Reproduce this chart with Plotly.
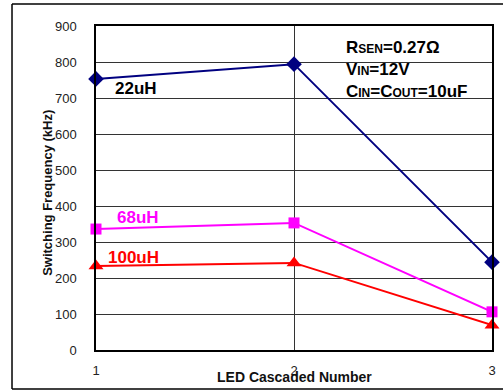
import plotly.graph_objects as go

# LED cascaded count vs switching frequency for three inductor values
led_count = [1, 2, 3]
freq_22uH = [753, 794, 244]
freq_68uH = [336, 353, 106]
freq_100uH = [233, 242, 69]

y_ticks = [0, 100, 200, 300, 400, 500, 600, 700, 800, 900]

FONT = "Arial, Liberation Sans, sans-serif"

fig = go.Figure()

series = [
    ("22uH", freq_22uH, "#000080", "diamond", 12),
    ("68uH", freq_68uH, "#FF00FF", "square", 11),
    ("100uH", freq_100uH, "#FF0000", "triangle-up", 13),
]
for name, vals, color, symbol, msize in series:
    fig.add_trace(go.Scatter(
        x=led_count, y=vals, name=name, mode="lines+markers",
        line=dict(color=color, width=2),
        marker=dict(symbol=symbol, size=msize, color=color),
        cliponaxis=False, showlegend=False,
    ))

# series labels
fig.add_annotation(x=1.20, y=726, text="<b>22uH</b>", showarrow=False,
                   xanchor="center", font=dict(family=FONT, size=17, color="#000000"))
fig.add_annotation(x=1.21, y=367, text="<b>68uH</b>", showarrow=False,
                   xanchor="center", font=dict(family=FONT, size=17, color="#FF00FF"))
fig.add_annotation(x=1.19, y=256, text="<b>100uH</b>", showarrow=False,
                   xanchor="center", font=dict(family=FONT, size=17, color="#FF0000"))

# operating conditions
sm = "<span style='font-size:12px'>"
cond = (f"<b>R{sm}SEN</span>=0.27Ω</b><br>"
        f"<b>V{sm}IN</span>=12V</b><br>"
        f"<b>C{sm}IN</span>=C{sm}OUT</span>=10uF</b>")
fig.add_annotation(xref="paper", yref="paper", x=0.625, y=0.97, text=cond,
                   showarrow=False, xanchor="left", yanchor="top", align="left",
                   font=dict(family=FONT, size=17, color="#000000"))

# axis titles
fig.add_annotation(xref="paper", yref="paper", x=0.5, y=-0.082, text="<b>LED Cascaded Number</b>",
                   showarrow=False, xanchor="center", yanchor="middle",
                   font=dict(family=FONT, size=14, color="#111111"))
fig.add_annotation(xref="paper", yref="paper", x=-0.1212, y=0.485,
                   text="<b>Switching Frequency (kHz)</b>", textangle=-90,
                   showarrow=False, xanchor="center", yanchor="middle",
                   font=dict(family=FONT, size=13, color="#111111"))

shapes = [
    # white backing behind the conditions text
    dict(type="rect", xref="paper", yref="paper", x0=0.621, x1=1.02, y0=0.756, y1=0.963,
         fillcolor="white", line=dict(width=0), layer="between"),
    # outer frame
    dict(type="line", xref="paper", yref="paper", x0=-0.2121, x1=1.06, y0=1.068, y1=1.068,
         line=dict(color="black", width=1.5)),
    dict(type="line", xref="paper", yref="paper", x0=-0.2121, x1=1.06, y0=-0.1204, y1=-0.1204,
         line=dict(color="black", width=1.5)),
    dict(type="line", xref="paper", yref="paper", x0=-0.2121, x1=-0.2121, y0=-0.1204, y1=1.068,
         line=dict(color="black", width=1.5)),
]

fig.update_layout(
    width=503, height=390,
    margin=dict(l=96, r=11, t=26, b=40),
    paper_bgcolor="white", plot_bgcolor="white",
    font=dict(family=FONT, size=13, color="#222222"),
    shapes=shapes,
    xaxis=dict(
        range=[1, 3], tickvals=led_count, ticktext=[str(v) for v in led_count],
        showgrid=True, gridcolor="#333333", gridwidth=1,
        showline=True, linecolor="#000000", linewidth=1.5, mirror=True,
        ticks="", ticklabelstandoff=8, zeroline=False, automargin=False,
        tickfont=dict(family=FONT, size=13, color="#222222"),
    ),
    yaxis=dict(
        range=[0, 900], tickvals=y_ticks,
        showgrid=True, gridcolor="#333333", gridwidth=1,
        showline=True, linecolor="#000000", linewidth=1.5, mirror=True,
        ticks="", ticklabelstandoff=15, zeroline=False, automargin=False,
        tickfont=dict(family=FONT, size=13, color="#222222"),
    ),
)

fig.write_html("out.html")
